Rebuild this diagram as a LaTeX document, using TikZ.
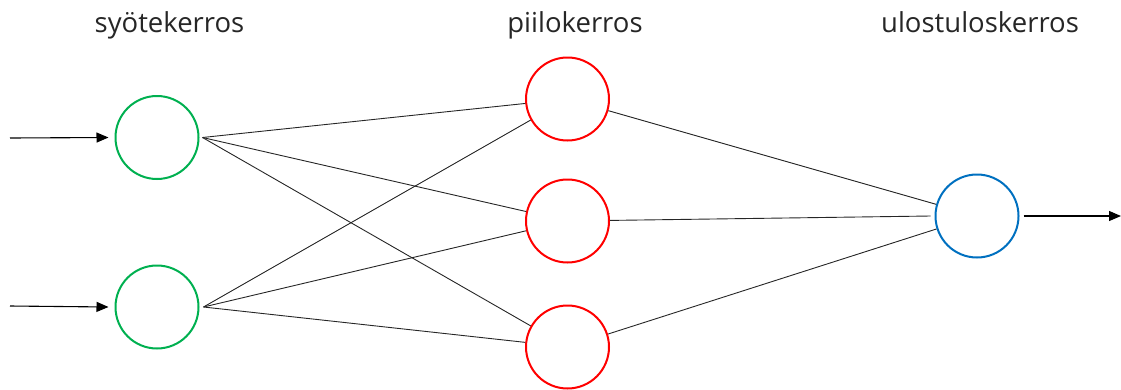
\documentclass[tikz,border=0pt]{standalone}
\usepackage{fontspec}
\setmainfont{Open Sans}
\usetikzlibrary{arrows.meta}
\definecolor{ingreen}{RGB}{0,176,80}
\definecolor{hidred}{RGB}{255,0,0}
\definecolor{outblue}{RGB}{0,112,192}
\definecolor{labelgray}{RGB}{38,38,38}
\begin{document}
\begin{tikzpicture}[x=1pt,y=-1pt,
  neuron/.style={circle, draw, line width=2pt, minimum size=83pt, inner sep=0pt},
  layerlabel/.style={anchor=base, inner sep=0pt, text=labelgray, font=\fontsize{27.5}{32}\selectfont},
  conn/.style={draw=black!85, line width=0.9pt},
  arr/.style={draw=black, line width=1.1pt, -{Triangle[length=12pt,width=10pt]}}]
\useasboundingbox (0,0) rectangle (1121,389);
% labels
\node[layerlabel] (l1) at (169.5,32) {syötekerros};
\node[layerlabel] (l2) at (575,32) {piilokerros};
\node[layerlabel] (l3) at (980,32) {ulostuloskerros};
% neurons
\node[neuron, draw=ingreen] (i1) at (157,137.5) {};
\node[neuron, draw=ingreen] (i2) at (157,307) {};
\node[neuron, draw=hidred] (h1) at (567.5,99) {};
\node[neuron, draw=hidred] (h2) at (567.5,221) {};
\node[neuron, draw=hidred] (h3) at (567.5,347) {};
\node[neuron, draw=outblue] (o) at (977,216) {};
% input / output arrows
\coordinate (a1) at (10,138);
\coordinate (a2) at (10,306);
\coordinate (oe) at (1121,216);
\draw[arr] (a1) -- ([xshift=-6pt]i1.west);
\draw[arr] (a2) -- ([xshift=-6pt]i2.west);
\draw[arr] ([xshift=4pt]o.east) -- (oe);
% input to hidden
\coordinate (s1) at ([xshift=3pt]i1.east);
\coordinate (s2) at ([xshift=4pt]i2.east);
\draw[conn] (s1) -- (h1);
\draw[conn] (s1) -- (h2);
\draw[conn] (s1) -- (h3);
\draw[conn] (s2) -- (h1);
\draw[conn] (s2) -- (h2);
\draw[conn] (s2) -- (h3);
% hidden to output
\draw[conn] (h1) -- (o);
\draw[conn] (h2) -- ([xshift=-4pt]o.west);
\draw[conn] (h3) -- (o);
\end{tikzpicture}
\end{document}
